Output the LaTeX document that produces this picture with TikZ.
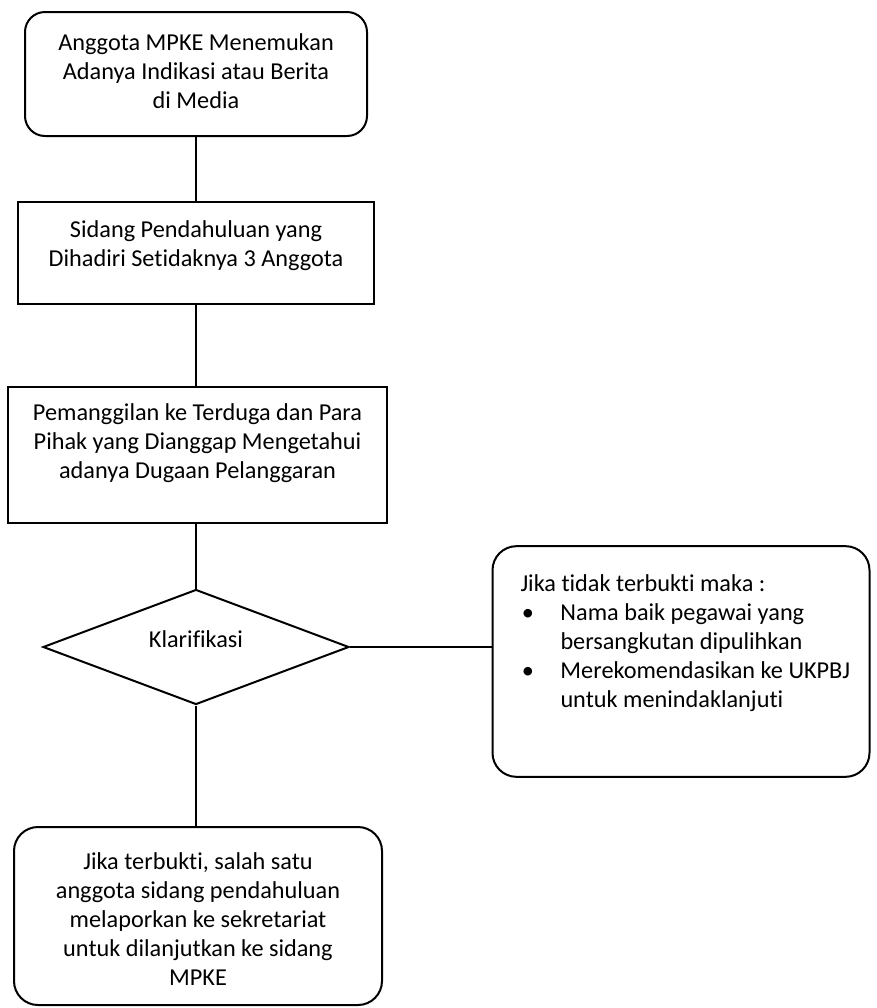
\documentclass[tikz,border=0pt]{standalone}
\usepackage{fontspec}
\setmainfont{Carlito}[Ligatures=NoCommon]
\usetikzlibrary{shapes.geometric,positioning}

\begin{document}
\begin{tikzpicture}[x=0.75pt, y=-0.75pt,
   every node/.style={font=\fontsize{18.2}{21.75}\selectfont},
   kotak/.style={draw, line width=1.5pt, inner sep=0pt, align=center},
   bulat/.style={kotak, rounded corners=18pt},
   keputusan/.style={draw, diamond, line width=1.5pt, inner sep=0pt,
         minimum width=229.5pt, minimum height=86.25pt},
   garis/.style={line width=1.5pt}]

   \useasboundingbox (0,0) rectangle (877,1008);

   % alur utama
   \node[bulat, rounded corners=15pt] (temuan) at (196,74)
      {\parbox[c][93pt][t]{256.5pt}{\centering\rule{0pt}{28.5pt}Anggota MPKE Menemukan\\
       Adanya Indikasi atau Berita\\ di Media}};
   \node[kotak] (sidang) at (196,253)
      {\parbox[c][76.5pt][t]{267pt}{\centering\rule{0pt}{26.25pt}Sidang Pendahuluan yang\\
       Dihadiri Setidaknya 3 Anggota}};
   \node[kotak] (panggil) at (197.5,455)
      {\parbox[c][102pt][t]{284.25pt}{\centering\rule{0pt}{24.75pt}Pemanggilan ke Terduga dan Para\\
       Pihak yang Dianggap Mengetahui\\ adanya Dugaan Pelanggaran}};
   \node[keputusan] (klarifikasi) at (196,647) {\raisebox{0pt}[0pt][0pt]{Klarifikasi}};
   \node[bulat] (terbukti) at (198,916)
      {\parbox[c][133.5pt][t]{276pt}{\centering\rule{0pt}{31.5pt}Jika terbukti, salah satu\\
       anggota sidang pendahuluan\\ melaporkan ke sekretariat\\
       untuk dilanjutkan ke sidang\\ MPKE}};

   % cabang tidak terbukti
   \node[bulat] (tidak) at (681,661.5)
      {\parbox[c][173pt][t]{282.75pt}{\raggedright
       \hspace*{21pt}\rule{0pt}{33.75pt}Jika tidak terbukti maka :\\
       \hspace*{22pt}\makebox[29pt][l]{\textbullet}Nama baik pegawai yang\\
       \hspace*{51pt}bersangkutan dipulihkan\\
       \hspace*{22pt}\makebox[29pt][l]{\textbullet}Merekomendasikan ke UKPBJ\\
       \hspace*{51pt}untuk menindaklanjuti}};

   \draw[garis] (temuan) -- (sidang);
   \draw[garis] (sidang) -- (sidang |- panggil.north);
   \draw[garis] (sidang |- panggil.south) -- (klarifikasi);
   \draw[garis] (klarifikasi) -- (klarifikasi |- terbukti.north);
   \draw[garis] (klarifikasi.east) -- (klarifikasi.east -| tidak.west);
\end{tikzpicture}
\end{document}
